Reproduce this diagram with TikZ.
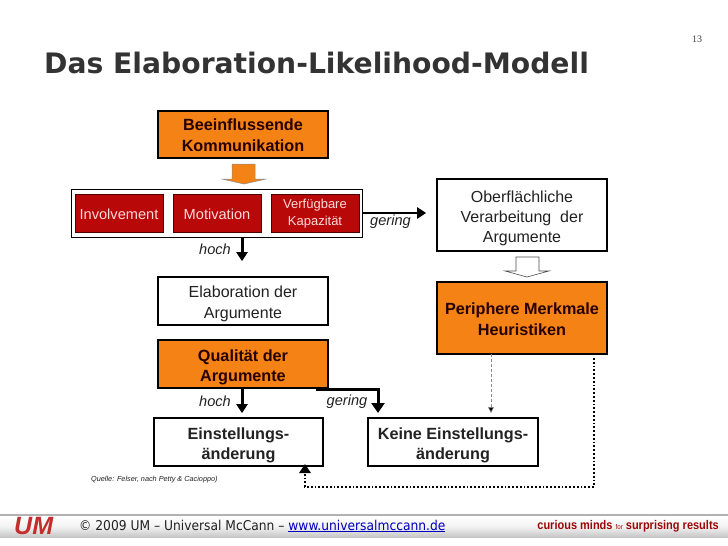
\documentclass[tikz,border=0pt]{standalone}
\usepackage{fontspec}
\setmainfont{Liberation Sans}
\newfontfamily\titlefont{DejaVu Sans}
\newfontfamily\footfont[FakeStretch=0.91]{DejaVu Sans}
\newfontfamily\tagfont[FakeStretch=0.88]{Liberation Sans}
\newfontfamily\numfont{Liberation Serif}
\usetikzlibrary{arrows.meta,shadings}
\definecolor{umorange}{HTML}{F58214}
\definecolor{umred}{HTML}{B80808}
\definecolor{umtext}{HTML}{222222}
\newcommand{\lift}[1]{\rule{0pt}{#1pt}}
\tikzset{
  box/.style={draw=black,line width=1.6pt,fill=white,inner sep=0pt,align=center,text=umtext},
  obox/.style={box,fill=umorange,text=black!85!red,font=\fontsize{16.2}{20.5}\selectfont\bfseries},
  wbox/.style={box,font=\fontsize{16}{20}\selectfont},
  bbox/.style={box,font=\fontsize{16.2}{20}\selectfont\bfseries},
  rbox/.style={draw=black!70!red,line width=0.8pt,fill=umred,text=white!85!red,inner sep=0pt,align=center,minimum width=88pt,minimum height=38pt},
  conn/.style={line width=3pt,-{Triangle[length=9pt,width=11pt]},line join=miter},
  lab/.style={font=\fontsize{14.6}{16}\selectfont\itshape,text=umtext,inner sep=0pt},
}
\begin{document}
\begin{tikzpicture}[x=1pt,y=-1pt]
\useasboundingbox (0,0) rectangle (728,546);
\fill[white] (0,0) rectangle (728,546);
% footer
\shade[top color=white,bottom color=black!22,middle color=black!5] (0,516) rectangle (728,537);
\fill[black!30] (0,514) rectangle (728,516);
\node[anchor=west,inner sep=0pt,text=umred!85!white,font=\fontsize{25}{25}\selectfont\bfseries\itshape] (logo) at (14,526) {UM};
\node[anchor=west,inner sep=0pt,font=\footfont\fontsize{13.5}{15}\selectfont,text=umtext] (foot) at (79,526) {© 2009 UM – Universal McCann – \textcolor{blue!75!black}{\underline{www.universalmccann.de}}};
\node[anchor=east,inner sep=0pt,text=umred!85!black,font=\tagfont\fontsize{12.5}{14}\selectfont\bfseries] (tag) at (719,526) {curious minds {\fontsize{7}{8}\selectfont\mdseries for} surprising results};
% title
\node[anchor=base west,inner sep=0pt,text=black!80,font=\titlefont\fontsize{28.2}{32}\selectfont\bfseries] (title) at (44,73) {Das Elaboration-Likelihood-Modell};
\node[anchor=center,inner sep=0pt,text=black!75,font=\numfont\fontsize{10}{12}\selectfont] (pg) at (697,39) {13};
% boxes
\node[obox,minimum width=170pt,minimum height=47pt] (komm) at (243,134.5) {\lift{13}Beeinflussende\\Kommunikation};
\node[draw=black,line width=.8pt,fill=white,minimum width=291pt,minimum height=48pt,inner sep=0pt] (outer) at (216.5,213) {};
\node[rbox,font=\fontsize{14.6}{15}\selectfont] (inv) at (119,213) {\lift{13}Involvement};
\node[rbox,font=\fontsize{14.6}{15}\selectfont] (mot) at (217,213) {\lift{13}Motivation};
\node[rbox,font=\fontsize{13}{17}\selectfont] (kap) at (315,213) {\lift{11}Verfügbare\\Kapazität};
\node[wbox,minimum width=170pt,minimum height=72pt] (ober) at (522,215) {\lift{18}Oberflächliche\\Verarbeitung\ \ der\\Argumente};
\node[obox,minimum width=170pt,minimum height=72pt] (peri) at (522,318) {\lift{14}Periphere Merkmale\\Heuristiken};
\node[wbox,minimum width=170pt,minimum height=48pt,font=\fontsize{16}{21}\selectfont] (ela) at (243,301) {\lift{17}Elaboration der\\Argumente};
\node[obox,minimum width=170pt,minimum height=48pt] (qual) at (243,364) {\lift{18}Qualität der\\Argumente};
\node[bbox,minimum width=169pt,minimum height=48pt] (ein) at (238.5,442) {\lift{18}Einstellungs-\\änderung};
\node[bbox,minimum width=170pt,minimum height=48pt] (kei) at (453,442) {\lift{18}Keine Einstellungs-\\änderung};
% block arrows
\draw[draw=black!45,fill=umorange,line width=.5pt] (232,164) -- (255,164) -- (255,179) -- (266,179) -- (244,184) -- (222,179) -- (232,179) -- cycle;
\draw[draw=black!70,fill=white,line width=.6pt] (516,257) -- (539,257) -- (539,271) -- (549,271) -- (527,277) -- (505,271) -- (516,271) -- cycle;
% connectors
\coordinate (h1) at ([xshift=-1pt]outer.south -| ela.north);
\draw[conn,shorten >=15pt] (h1) -- (h1 |- ela.north);
\draw[conn,line width=2.4pt,shorten >=10pt] (outer.east) -- (outer.east -| ober.west);
\coordinate (h2) at ([xshift=-1pt]qual.south);
\draw[conn,shorten >=4pt] (h2) -- (h2 |- ein.north);
\coordinate (g1) at (316,389);
\draw[conn,shorten >=5pt,-{Triangle[length=10pt,width=13pt]}] (g1) -- (378,389) -- (378,418);
\draw[draw=black!45,line width=.6pt,densely dashed,-{Triangle[length=6pt,width=6pt,fill=black]}] (491,354) -- (491,413);
\draw[line width=1.8pt,dotted,line cap=butt] (594,358) -- (594,487) -- (305,487) -- (305,474);
\fill[black] (305,464) -- (311,473) -- (299,473) -- cycle;
% labels
\node[lab] (l1) at (215,249.5) {hoch};
\node[lab,anchor=west] (l2) at (370,222) {gering};
\node[lab] (l3) at (215,401.5) {hoch};
\node[lab] (l4) at (347,401.5) {gering};
\node[anchor=west,inner sep=0pt,font=\fontsize{7.3}{9}\selectfont\itshape,text=umtext] (src) at (91,480) {Quelle: Felser, nach Petty \& Cacioppo)};
\end{tikzpicture}
\end{document}
